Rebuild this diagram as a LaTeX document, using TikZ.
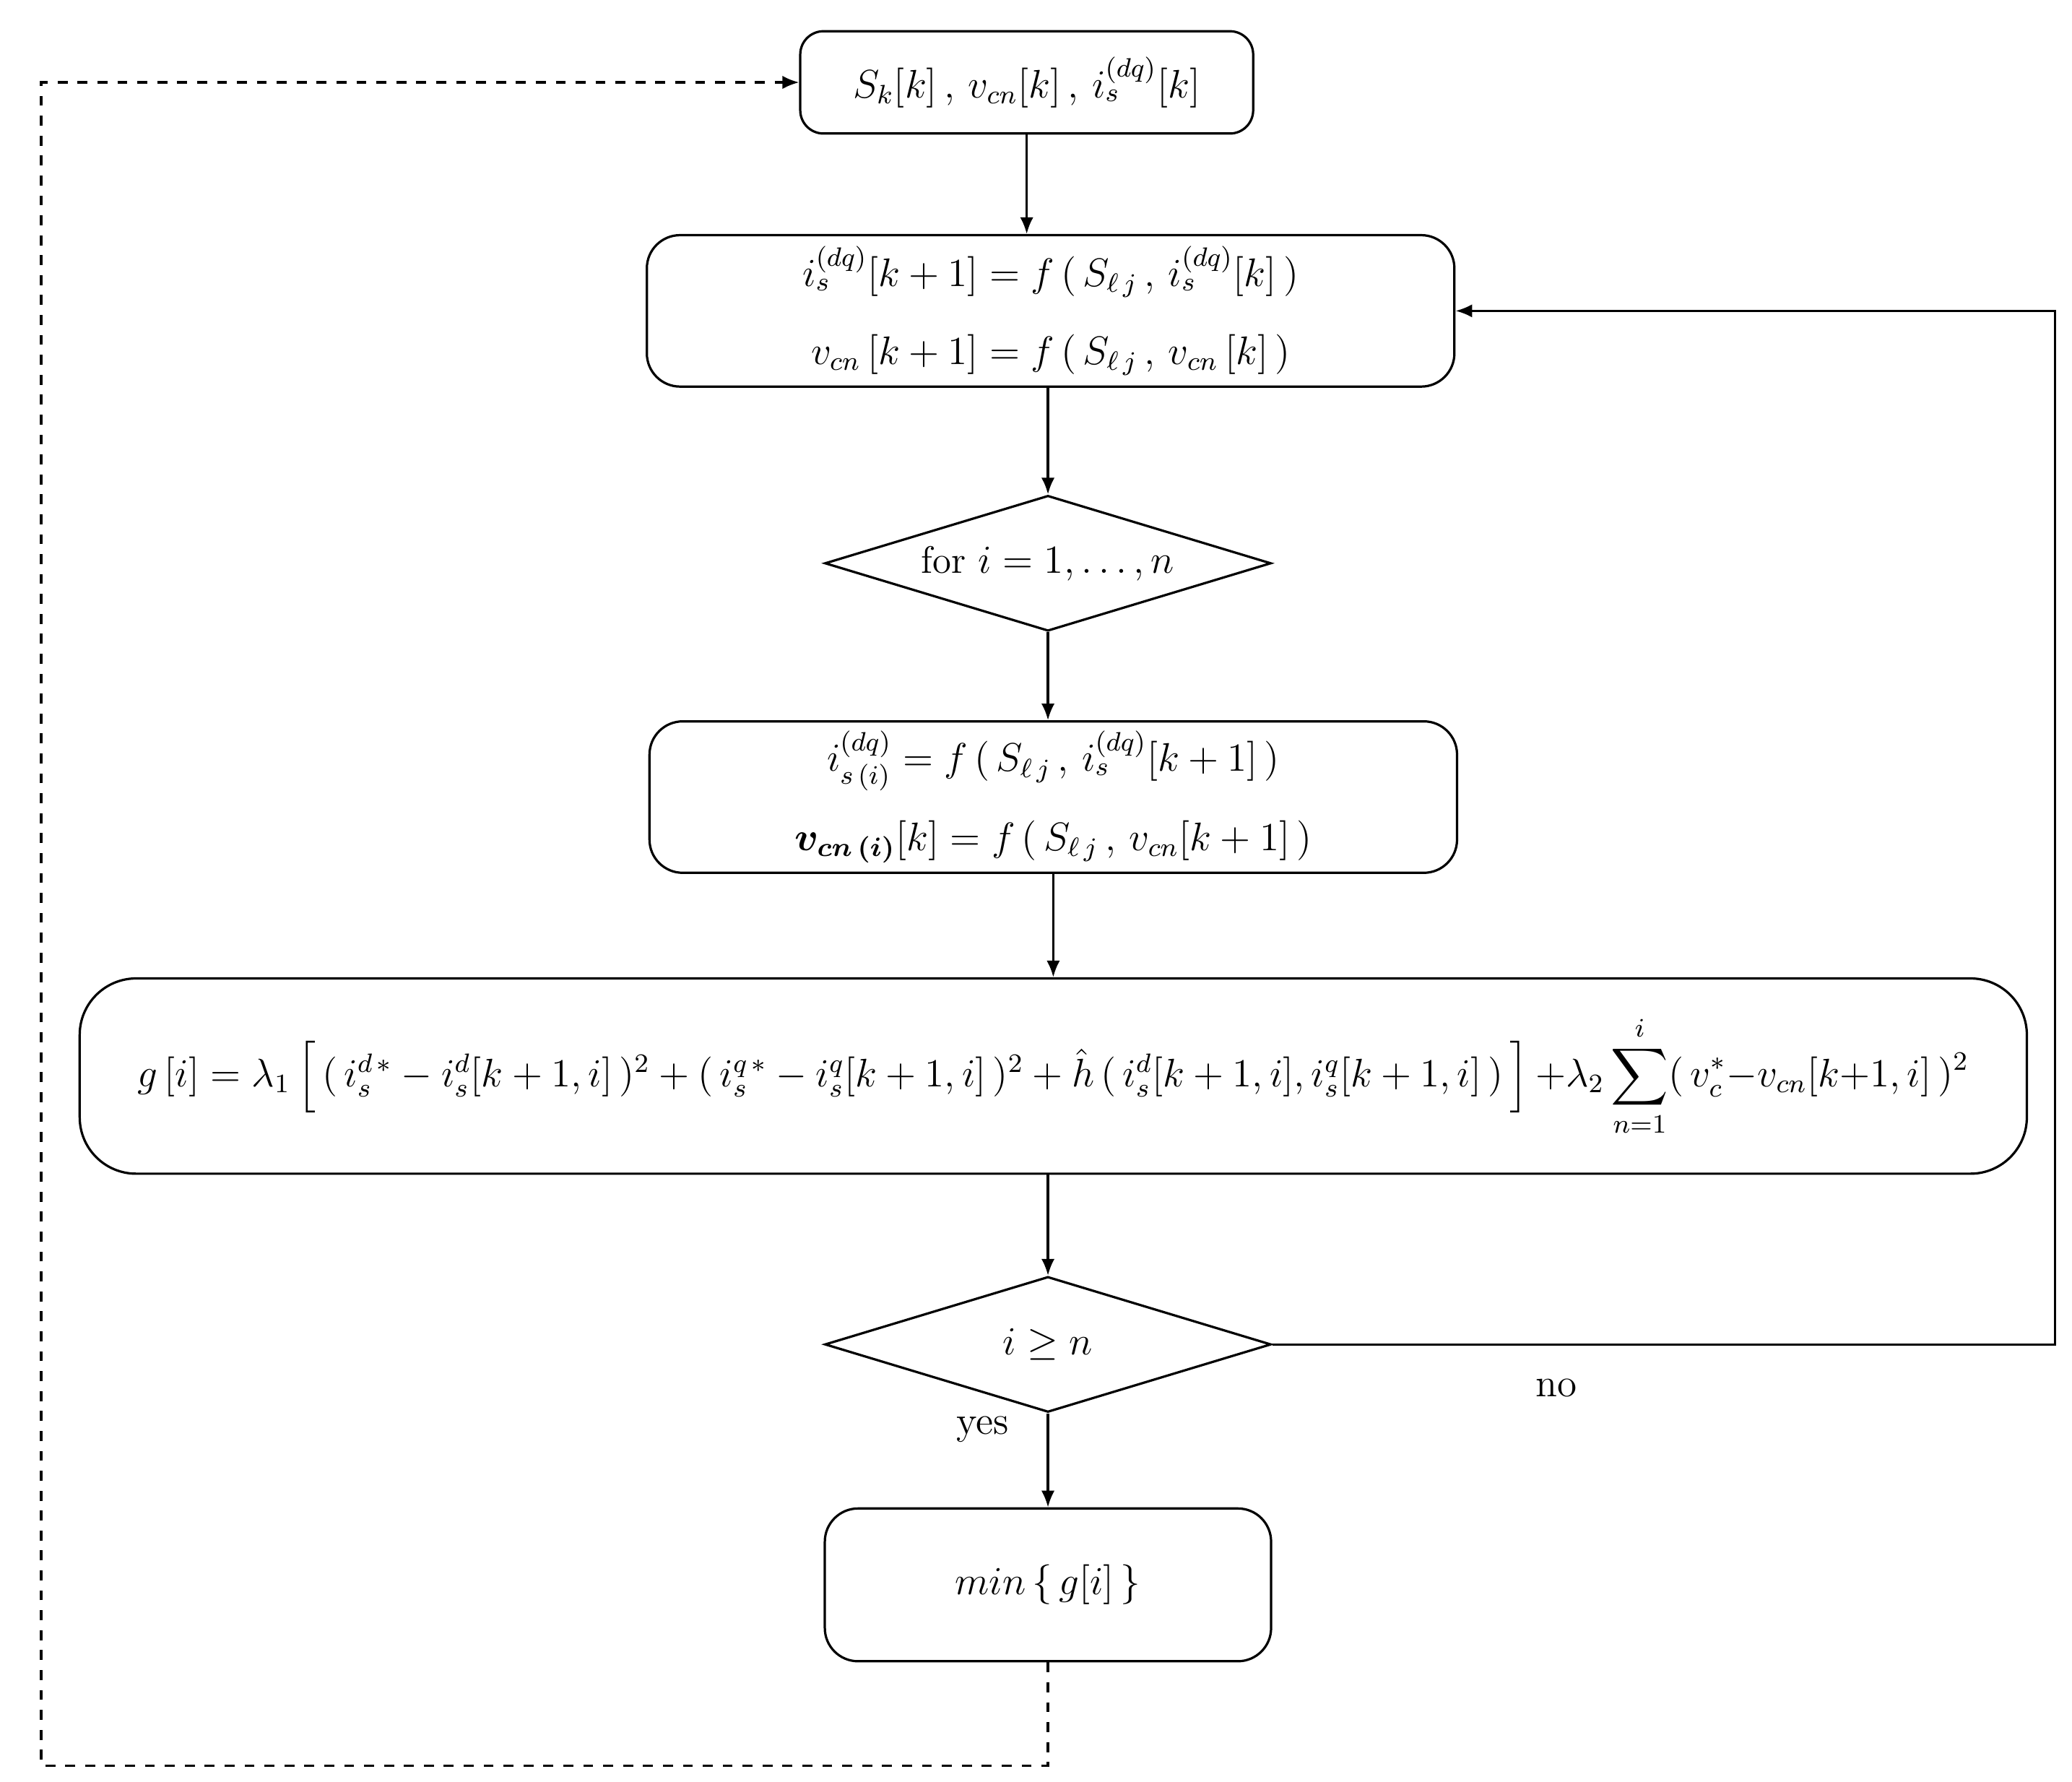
\documentclass[tikz,border=0pt]{standalone}
\usepackage{amsmath,bm}
\usetikzlibrary{shapes.geometric,arrows.meta}
\begin{document}
\fontsize{11.5}{13.5}\selectfont
\begin{tikzpicture}[x=0.4pt,y=-0.4pt,
  box/.style={draw,line width=0.7pt,rounded corners=7pt,inner sep=0pt,align=center},
  dia/.style={draw,line width=0.7pt,diamond,aspect=3.3,inner sep=0pt,minimum width=336*0.4pt,minimum height=102*0.4pt},
  arr/.style={line width=0.7pt,-{Latex[length=5pt,width=4pt]}}]
\useasboundingbox (0,0) rectangle (1560,1341);
\node[box,minimum width=341*0.4pt,minimum height=77*0.4pt] (b1) at (773,62) {$S_k[k]\,,\,v_{cn}[k]\,,\,i_s^{(dq)}[k]$};
\node[box,minimum width=608*0.4pt,minimum height=114*0.4pt,rounded corners=10pt] (b2) at (791,234)
 {$i_s^{(dq)}[k+1]=f\,(\,S_{\ell\,j}\,,\,i_s^{(dq)}[k]\,)$\\[10pt] $v_{cn}\,[k+1]=f\,(\,S_{\ell\,j}\,,\,v_{cn}\,[k]\,)$};
\node[dia] (d1) at (789,424) {for $i=1,\ldots,n$};
\node[box,minimum width=608*0.4pt,minimum height=114*0.4pt,rounded corners=10pt] (b3) at (793,600)
 {$i_{s\,(i)}^{(dq)}=f\,(\,S_{\ell\,j}\,,\,i_s^{(dq)}[k+1]\,)$\\[8pt] $\bm{v_{cn\,(i)}}[k]=f\,(\,S_{\ell\,j}\,,\,v_{cn}[k+1]\,)$};
\node[box,minimum width=1466*0.4pt,minimum height=147*0.4pt,rounded corners=17pt] (b4) at (793,810)
 {$g\,[i]=\lambda_1\left[\,(\,i_s^{d\,*}-i_s^d[k+1,i]\,)^2+(\,i_s^{q\,*}-i_s^q[k+1,i]\,)^2+\hat h\,(\,i_s^d[k+1,i],i_s^q[k+1,i]\,)\,\right]{+}\lambda_2\displaystyle\sum_{n=1}^{i}(\,v_c^*{-}v_{cn}[k{+}1,i]\,)^2$};
\node[dia] (d2) at (789,1012) {\large$i\geq n$};
\node[box,minimum width=336*0.4pt,minimum height=115*0.4pt,rounded corners=10pt] (b5) at (789,1193) {\large$min\,\{\,g[i]\,\}$};
\draw[arr] (b1.south) -- (b1.south |- b2.north);
\draw[arr] (d1.north |- b2.south) -- (d1.north);
\draw[arr] (d1.south) -- (d1.south |- b3.north);
\draw[arr] (b3.south) -- (b3.south |- b4.north);
\draw[arr] (d2.north |- b4.south) -- (d2.north);
\draw[arr] (d2.south) -- (b5.north);
\coordinate (r) at (1547,1012);
\coordinate (l) at (31,1329);
\draw[arr] (d2.east) -- (r) |- (b2.east);
\draw[arr,dashed] (b5.south) |- (l) |- (b1.west);
\node[font=\large] (no) at (1172,1045) {no};
\node[font=\large] (yes) at (740,1076) {yes};
\end{tikzpicture}
\end{document}
